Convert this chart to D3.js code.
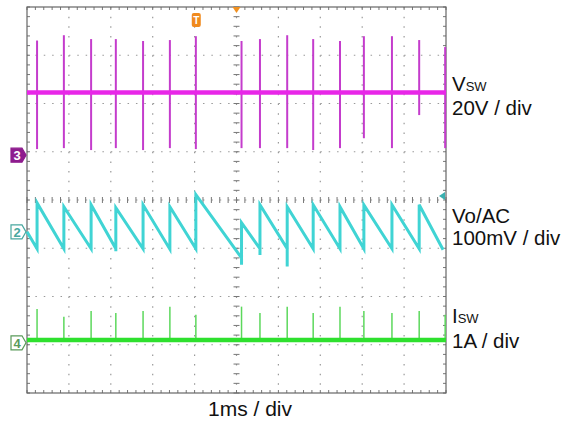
<!DOCTYPE html>
<html>
<head>
<meta charset="utf-8">
<script src="https://cdn.jsdelivr.net/npm/d3@7"></script>
<style>
  body { margin: 0; background: #fff; }
  text { font-family: "Liberation Sans", Arial, sans-serif; fill: #111; }
</style>
</head>
<body>
<svg id="scope" width="566" height="426"></svg>
<script>
// switching events, ms (time axis 1 ms / div, 10 div)
const switchTimes = [0.24, 0.88, 1.53, 2.12, 2.77, 3.41, 4.03, 5.12, 5.56, 6.21, 6.83, 7.47, 8.04, 8.71, 9.36, 9.98];

// Vsw (ch3, 20 V/div): baseline and ringing spike extents, volts
const vswBase = 26;
const vswTop = [47.5, 49.7, 48.1, 48.1, 47.3, 47.7, 49.3, 47.3, 48.1, 49.7, 48.1, 47.3, 49.3, 49.3, 47.7, 44.8];
const vswBottom = [2.5, 2.9, 2.1, 2.9, 2.1, 2.9, 2.5, 2.9, 2.9, 2.9, 2.1, 2.9, 7.0, 2.9, 16.6, 2.9];

// Vo AC (ch2, 100 mV/div): value before jump, dip, peak after jump, mV
const voStart = 0;
const voLow = [-35, -35, -35, -35, -35, -36, -35, -54, -35, -35, -35, -35, -35, -35, -35];
const voDip = [-35, -35, -35, -40, -35, -36, -35, -68, -48, -72, -35, -35, -35, -35, -35];
const voPeak = [60, 52, 56, 50, 56, 52, 77, 19, 56, 52, 56, 52, 56, 56, 56];
const voEnd = [9.93, -37];

// Isw (ch4, 1 A/div): baseline and spike tops, amps
const iswBase = 0.06;
const iswTop = [0.70, 0.54, 0.66, 0.62, 0.66, 0.75, 0.58, 0.75, 0.62, 0.75, 0.62, 0.75, 0.66, 0.62, 0.66, 0.58];

// channel settings: units per div and ground marker position (div from centre)
const channels = {
  vsw: { perDiv: 20, offset: 0.93 },
  vo:  { perDiv: 100, offset: -0.66 },
  isw: { perDiv: 1, offset: -2.96 }
};

const labels = [
  { main: "V", sub: "SW", y: 91 }, { main: "20V / div", y: 115 },
  { main: "Vo/AC", y: 223 }, { main: "100mV / div", y: 245 },
  { main: "I", sub: "SW", y: 323 }, { main: "1A / div", y: 348 }
];

const svg = d3.select("#scope");
const x = d3.scaleLinear().domain([0, 10]).range([27, 446]);
const y = d3.scaleLinear().domain([-4, 4]).range([393, 7]);
const yc = (ch, v) => y(channels[ch].offset + v / channels[ch].perDiv);

// graticule
const grid = svg.append("g");
const minorX = (x(1) - x(0)) / 5, minorY = (y(0) - y(1)) / 5;
d3.range(1, 8).forEach(i => {
  grid.append("line").attr("x1", x(0)).attr("x2", x(10)).attr("y1", y(i - 4)).attr("y2", y(i - 4))
    .attr("stroke", "#999").attr("stroke-width", 1.2)
    .attr("stroke-dasharray", `1.5 ${minorX - 1.5}`);
});
d3.range(1, 10).forEach(i => {
  grid.append("line").attr("y1", y(4)).attr("y2", y(-4)).attr("x1", x(i)).attr("x2", x(i))
    .attr("stroke", "#999").attr("stroke-width", 1.2)
    .attr("stroke-dasharray", `1.5 ${minorY - 1.5}`);
});
// ticks on centre axes and border
const tx = d3.range(0, 10.01, 0.2), ty = d3.range(-4, 4.01, 0.2);
const tick = (x1, y1, x2, y2) => grid.append("line").attr("x1", x1).attr("y1", y1).attr("x2", x2).attr("y2", y2)
  .attr("stroke", "#777").attr("stroke-width", 1);
tx.forEach(t => {
  tick(x(t), y(0) - 3, x(t), y(0) + 3);
  tick(x(t), y(4), x(t), y(4) + 3);
  tick(x(t), y(-4), x(t), y(-4) - 3);
});
ty.forEach(t => {
  tick(x(5) - 3, y(t), x(5) + 3, y(t));
  tick(x(0), y(t), x(0) + 3, y(t));
  tick(x(10), y(t), x(10) - 3, y(t));
});
grid.append("rect").attr("x", x(0)).attr("y", y(4)).attr("width", x(10) - x(0)).attr("height", y(-4) - y(4))
  .attr("fill", "none").attr("stroke", "#666").attr("stroke-width", 1.2);

// Vsw trace
const vsw = svg.append("g");
vsw.selectAll("line.spike").data(switchTimes).join("line").attr("class", "spike")
  .attr("x1", d => x(d)).attr("x2", d => x(d))
  .attr("y1", (d, i) => yc("vsw", vswTop[i])).attr("y2", (d, i) => yc("vsw", vswBottom[i]))
  .attr("stroke", "#c43ccc").attr("stroke-width", 2);
vsw.append("line").attr("x1", x(0)).attr("x2", x(10))
  .attr("y1", yc("vsw", vswBase)).attr("y2", yc("vsw", vswBase))
  .attr("stroke", "#e826e8").attr("stroke-width", 4.5);

// Vo trace
const voPts = [[0, voStart]];
voPeak.forEach((p, i) => {
  voPts.push([switchTimes[i], voLow[i]], [switchTimes[i], voDip[i]], [switchTimes[i], p]);
});
voPts.push(voEnd);
svg.append("path").datum(voPts)
  .attr("d", d3.line().x(d => x(d[0])).y(d => yc("vo", d[1])))
  .attr("fill", "none").attr("stroke", "#40d4d4").attr("stroke-width", 3);

// Isw trace
const isw = svg.append("g");
isw.selectAll("line.spike").data(switchTimes).join("line").attr("class", "spike")
  .attr("x1", d => x(d)).attr("x2", d => x(d))
  .attr("y1", (d, i) => yc("isw", iswTop[i])).attr("y2", yc("isw", iswBase))
  .attr("stroke", "#5cd85c").attr("stroke-width", 1.5);
isw.append("line").attr("x1", x(0)).attr("x2", x(10))
  .attr("y1", yc("isw", iswBase)).attr("y2", yc("isw", iswBase))
  .attr("stroke", "#2ee02e").attr("stroke-width", 4.5);

// channel ground markers
const marker = (ch, num, col, filled) => {
  const cy = y(channels[ch].offset);
  const g = svg.append("g").attr("transform", `translate(${x(0) - 1},${cy})`);
  g.append("path").attr("d", "M0,0 L-4,-7 L-15,-7 L-15,7 L-4,7 Z")
    .attr("fill", filled ? col : "#fff").attr("stroke", col).attr("stroke-width", 1.2);
  g.append("text").attr("x", -9).attr("y", 5).attr("text-anchor", "middle")
    .style("font-size", "13px").style("font-weight", "bold")
    .style("fill", filled ? "#fff" : col).text(num);
};
marker("vsw", "3", "#8e1c8e", true);
marker("vo", "2", "#49a8a0", false);
marker("isw", "4", "#5a9a5a", false);

// trigger markers
svg.append("path").attr("d", `M${x(5) - 4},${y(4)} L${x(5) + 4},${y(4)} L${x(5)},${y(4) + 6} Z`).attr("fill", "#f09020");
const tg = svg.append("g").attr("transform", `translate(${x(4.04)},20)`);
tg.append("rect").attr("x", -4.5).attr("y", -7).attr("width", 9).attr("height", 14).attr("rx", 2).attr("fill", "#f08a1e");
tg.append("text").attr("y", 4).attr("text-anchor", "middle").style("font-size", "10px").style("font-weight", "bold")
  .style("fill", "#fff").text("T");
svg.append("path").attr("d", `M${x(10) - 7},196 L${x(10) - 1},192 L${x(10) - 1},200 Z`).attr("fill", "#3ab0b0");

// labels
labels.forEach(l => {
  const t = svg.append("text").attr("x", 452).attr("y", l.y).style("font-size", "20.5px");
  t.append("tspan").text(l.main);
  if (l.sub) t.append("tspan").style("font-size", "13px").text(l.sub);
});
svg.append("text").attr("x", 250).attr("y", 416).attr("text-anchor", "middle")
  .style("font-size", "21px").text("1ms / div");
</script>
</body>
</html>
